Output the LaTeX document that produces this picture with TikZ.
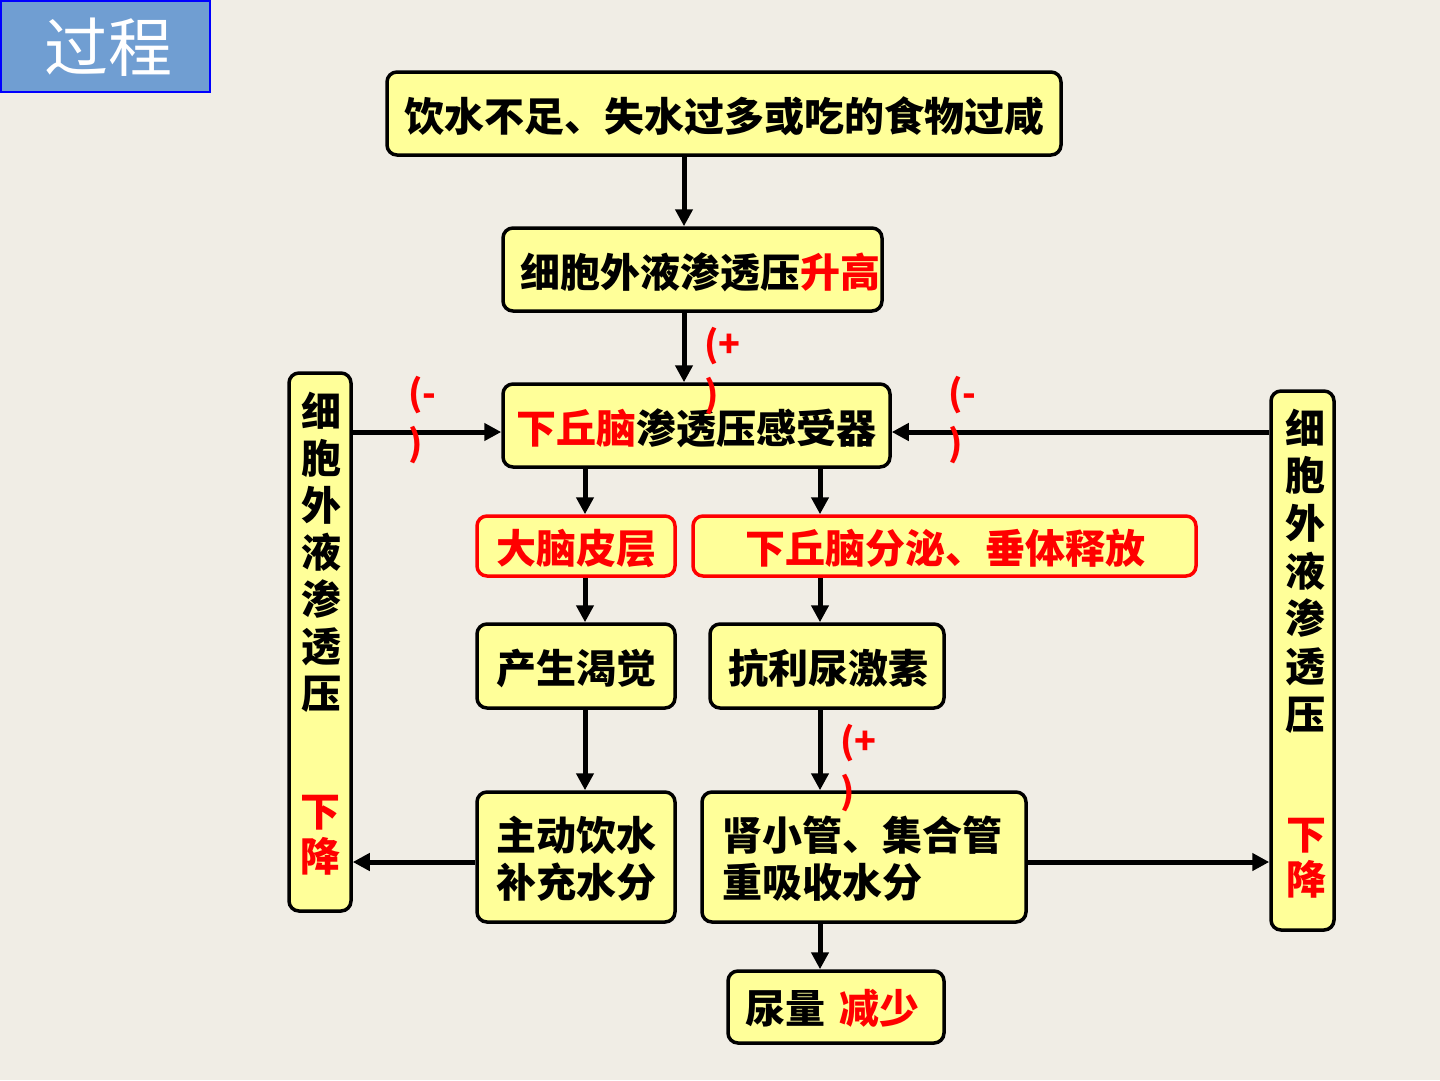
\documentclass[tikz,border=0pt]{standalone}
\usepackage{fontspec}
\setmainfont{Noto Sans CJK SC}
\usetikzlibrary{arrows.meta}
\definecolor{bgc}{RGB}{240,237,229}
\definecolor{boxy}{RGB}{255,255,153}
\definecolor{redc}{RGB}{255,0,0}
\definecolor{titleblue}{RGB}{112,158,210}
\tikzset{
  box/.style={draw=black, line width=3.5pt, fill=boxy, rounded corners=10pt, inner sep=0pt},
  rbox/.style={draw=redc, line width=3.5pt, fill=boxy, rounded corners=10pt, inner sep=0pt},
  txt/.style={font=\fontsize{40}{47}\selectfont\bfseries, inner sep=0pt, align=center},
  lbl/.style={text=redc, font=\fontsize{36}{50}\selectfont\bfseries, inner sep=0pt, align=left, anchor=west},
  arr/.style={line width=5pt, -{Triangle[length=17pt,width=17pt]}}
}
\begin{document}
\begin{tikzpicture}[x=1pt,y=-1pt]
\useasboundingbox (0,0) rectangle (1440,1080);
\fill[bgc] (0,0) rectangle (1440,1080);
% title
\node[draw=blue, line width=1.5pt, fill=titleblue, minimum width=209pt, minimum height=91pt, anchor=north west, inner sep=0pt] (title) at (0,0) {};
\node[text=white, font=\fontsize{64}{64}\selectfont] (titletxt) at (108,47) {过程};
% main boxes
\node[box, minimum width=674pt, minimum height=83pt] (b1) at (724,113.5) {};
\node[txt] (t1) at (724,116) {饮水不足、失水过多或吃的食物过咸};
\node[box, minimum width=379pt, minimum height=83pt] (b2) at (692.5,269.5) {};
\node[txt] (t2) at (700,272) {细胞外液渗透压\textcolor{redc}{升高}};
\node[box, minimum width=387pt, minimum height=83pt] (b3) at (696.5,425.5) {};
\node[txt] (t3) at (696,428) {\textcolor{redc}{下丘脑}渗透压感受器};
\node[rbox, minimum width=198pt, minimum height=60pt] (b4) at (576,546) {};
\node[txt, text=redc] (t4) at (576,548) {大脑皮层};
\node[rbox, minimum width=503pt, minimum height=60pt] (b5) at (944.5,546) {};
\node[txt, text=redc] (t5) at (945,548) {下丘脑分泌、垂体释放};
\node[box, minimum width=198pt, minimum height=84pt] (b6) at (576,666) {};
\node[txt] (t6) at (576,668) {产生渴觉};
\node[box, minimum width=234pt, minimum height=84pt] (b7) at (827,666) {};
\node[txt] (t7) at (828,668) {抗利尿激素};
\node[box, minimum width=198pt, minimum height=130pt] (b8) at (576,857) {};
\node[txt] (t8) at (576,859) {主动饮水\\补充水分};
\node[box, minimum width=324pt, minimum height=130pt] (b9) at (864,857) {};
\node[txt, align=left] (t9) at (862,859) {肾小管、集合管\\重吸收水分};
\node[box, minimum width=216pt, minimum height=72pt] (b10) at (836,1007) {};
\node[txt] (t10) at (832,1008) {尿量\hspace{14pt}\textcolor{redc}{减少}};
% side boxes
\node[box, minimum width=62pt, minimum height=538pt] (bl) at (320,642) {};
\node[txt, font=\fontsize{40}{47}\selectfont\bfseries] (tl) at (321,552) {细\\胞\\外\\液\\渗\\透\\压};
\node[txt, text=redc, font=\fontsize{40}{45}\selectfont\bfseries] (tl2) at (320,835) {下\\降};
\node[box, minimum width=63pt, minimum height=539pt] (br) at (1302.5,660.5) {};
\node[txt, font=\fontsize{40}{47.7}\selectfont\bfseries] (tr) at (1305,571) {细\\胞\\外\\液\\渗\\透\\压};
\node[txt, text=redc, font=\fontsize{40}{45}\selectfont\bfseries] (tr2) at (1306,858) {下\\降};
% arrow columns
\coordinate (cx) at (684,0);
\coordinate (lx) at (585,0);
\coordinate (rx) at (820,0);
\coordinate (hy1) at (0,432);
\coordinate (hy2) at (0,862);
\draw[arr] (cx |- b1.south) -- (cx |- b2.north);
\draw[arr] (cx |- b2.south) -- (cx |- b3.north);
\draw[arr] (bl.east |- hy1) -- (b3.west |- hy1);
\draw[arr] (br.west |- hy1) -- (b3.east |- hy1);
\draw[arr] (lx |- b3.south) -- (lx |- b4.north);
\draw[arr] (rx |- b3.south) -- (rx |- b5.north);
\draw[arr] (lx |- b4.south) -- (lx |- b6.north);
\draw[arr] (rx |- b5.south) -- (rx |- b7.north);
\draw[arr] (lx |- b6.south) -- (lx |- b8.north);
\draw[arr] (rx |- b7.south) -- (rx |- b9.north);
\draw[arr] (b8.west |- hy2) -- (bl.east |- hy2);
\draw[arr] (b9.east |- hy2) -- (br.west |- hy2);
\draw[arr] (rx |- b9.south) -- (rx |- b10.north);
% sign labels
\node[lbl] (s1) at (704,371) {(+\\)};
\node[lbl] (s2) at (408,420) {(-\\)};
\node[lbl] (s3) at (948,420) {(-\\)};
\node[lbl] (s4) at (840,768) {(+\\)};
\end{tikzpicture}
\end{document}
